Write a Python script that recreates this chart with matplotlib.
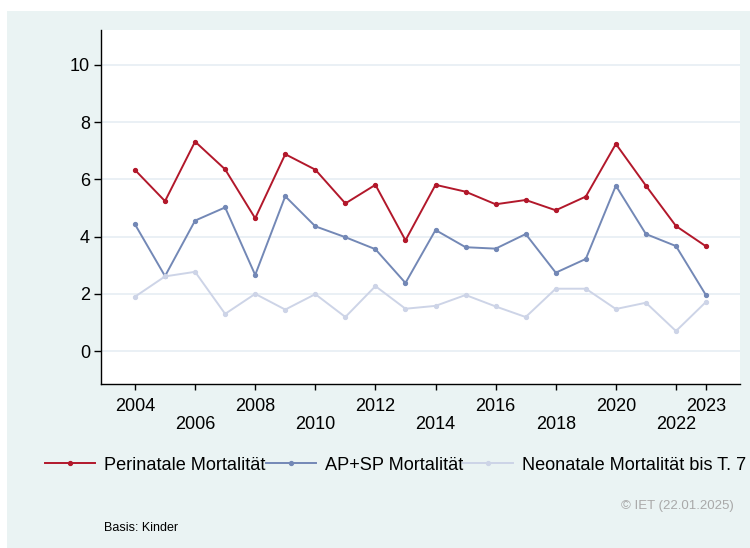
import matplotlib
matplotlib.use("Agg")
import matplotlib.pyplot as plt
from matplotlib.patches import Rectangle

plt.rcParams['font.family'] = ['Liberation Sans', 'DejaVu Sans']

# Daten
jahre = list(range(2004, 2024))
perinatal = [6.33, 5.24, 7.32, 6.35, 4.64, 6.88, 6.34, 5.16, 5.81, 3.87,
             5.81, 5.57, 5.13, 5.28, 4.92, 5.40, 7.24, 5.78, 4.37, 3.66]
ap_sp = [4.43, 2.62, 4.56, 5.02, 2.66, 5.41, 4.36, 3.98, 3.56, 2.38,
         4.23, 3.63, 3.58, 4.09, 2.74, 3.22, 5.78, 4.09, 3.67, 1.95]
neonatal = [1.90, 2.61, 2.77, 1.30, 2.00, 1.45, 1.99, 1.19, 2.27, 1.48,
            1.58, 1.96, 1.56, 1.19, 2.18, 2.18, 1.47, 1.69, 0.70, 1.72]
serien = ["Perinatale Mortalität", "AP+SP Mortalität", "Neonatale Mortalität bis T. 7"]
farben = ["#b2182b", "#7388b6", "#cdd4e7"]
ticks_oben = [2004, 2008, 2012, 2016, 2020, 2023]
ticks_unten = [2006, 2010, 2014, 2018, 2022]
y_ticks = [0, 2, 4, 6, 8, 10]

fig = plt.figure(figsize=(7.5, 5.48), dpi=100)
fig.patch.set_facecolor("white")
fig.add_artist(Rectangle((7 / 750, 0), 1, 1 - 11 / 548, transform=fig.transFigure,
                         facecolor="#eaf3f3", edgecolor="none", zorder=0))

ax = fig.add_axes([101 / 750, 1 - 384 / 548, 639 / 750, 354 / 548])
ax.set_facecolor("white")

for werte, name, farbe in zip([perinatal, ap_sp, neonatal], serien, farben):
    ax.plot(jahre, werte, color=farbe, lw=1.4, marker="o", markersize=2.8,
            label=name, zorder=3)

ax.set_xlim(2002.87, 2024.13)
ax.set_ylim(-1.15, 11.22)
ax.set_yticks(y_ticks)
ax.set_yticklabels([str(v) for v in y_ticks])
ax.set_xticks(ticks_oben)
ax.set_xticklabels([str(v) for v in ticks_oben])
ax.set_xticks(ticks_unten, minor=True)
ax.set_xticklabels([str(v) for v in ticks_unten], minor=True)

ax.tick_params(axis="x", which="major", length=4, width=1, pad=6, labelsize=13)
ax.tick_params(axis="x", which="minor", length=4, width=1, pad=19, labelsize=13)
ax.tick_params(axis="y", length=5, width=1, pad=3, labelsize=13)

for y in y_ticks:
    ax.axhline(y, color="#e6eef3", lw=1.2, zorder=1)

for s in ["top", "right"]:
    ax.spines[s].set_visible(False)
for s in ["left", "bottom"]:
    ax.spines[s].set_linewidth(1)
    ax.spines[s].set_color("black")

fig.legend(loc="center left", bbox_to_anchor=(45 / 750, 1 - 465 / 548), ncol=3,
           frameon=False, fontsize=13.1, handlelength=2.75, handletextpad=0.5,
           columnspacing=0.0, borderpad=0, borderaxespad=0)

fig.text(734 / 750, 1 - 506 / 548, "© IET (22.01.2025)", ha="right", va="center",
         fontsize=9.5, color="#a9a9a9")
fig.text(104 / 750, 1 - 528 / 548, "Basis: Kinder", ha="left", va="center",
         fontsize=9, color="black")

fig.savefig("out.png", dpi=100)
